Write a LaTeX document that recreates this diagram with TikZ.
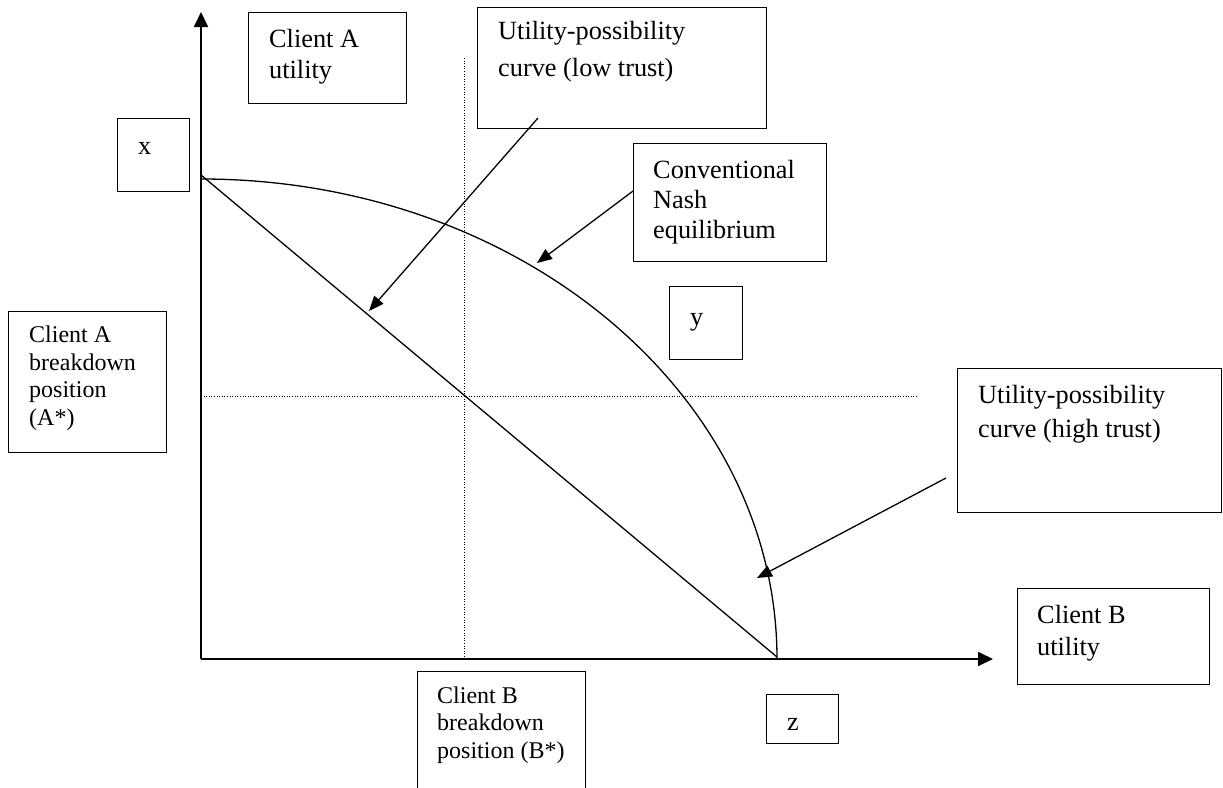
\documentclass[tikz,border=0pt]{standalone}
\usepackage{fontspec}
\setmainfont{Liberation Serif}
\usetikzlibrary{arrows.meta}
\begin{document}
\begin{tikzpicture}[x=1pt,y=-1pt,
  box/.style={draw, line width=1.3pt, inner sep=0pt, anchor=north west},
  lbl/.style={anchor=base west, inner sep=0pt, align=left},
  big/.style={font=\fontsize{26.3}{#1}\selectfont},
  small/.style={font=\fontsize{24}{#1}\selectfont},
  axis/.style={line width=1.8pt, -{Triangle[length=15pt,width=14pt]}},
  curveline/.style={line width=1.3pt},
  ptr/.style={line width=1.3pt, -{Triangle[length=15pt,width=12pt]}},
  dots/.style={line width=0.9pt, dash pattern=on 1pt off 1.6pt}
]
\useasboundingbox (0,0) rectangle (1223,787);
\clip (0,0) rectangle (1223,787);

% boxes
\node[box, minimum width=158pt, minimum height=91pt]  (ca)  at (248,12)  {};
\node[box, minimum width=72pt,  minimum height=73pt]  (xb)  at (117,118) {};
\node[box, minimum width=289pt, minimum height=121pt] (low) at (477,7)   {};
\node[box, minimum width=193pt, minimum height=118pt] (nash) at (633,143) {};
\node[box, minimum width=158pt, minimum height=141pt] (ab)  at (8,311)   {};
\node[box, minimum width=73pt,  minimum height=73pt]  (yb)  at (669,286) {};
\node[box, minimum width=264pt, minimum height=144pt] (high) at (957,368) {};
\node[box, minimum width=168pt, minimum height=140pt] (bb)  at (417,671) {};
\node[box, minimum width=72pt,  minimum height=49pt]  (zb)  at (766,694) {};
\node[box, minimum width=192pt, minimum height=96pt]  (cb)  at (1017,588) {};

% texts (anchored at the baseline of their last line)
\node[lbl, big=31]   (catxt)  at (269,78)  {Client A\\utility};
\node[lbl, big=31]   (xtxt)   at (138,154) {x};
\node[lbl, big=37]   (lowtxt) at (498,76)  {Utility-possibility\\curve (low trust)};
\node[lbl, big=30]   (nashtxt) at (653,238) {Conventional\\Nash\\equilibrium};
\node[lbl, small=27.5] (abtxt)  at (29,425)  {Client A\\breakdown\\position\\(A*)};
\node[lbl, big=31]   (ytxt)   at (690,325) {y};
\node[lbl, big=34]   (hightxt) at (978,437) {Utility-possibility\\curve (high trust)};
\node[lbl, small=27.5] (bbtxt) at (437,758) {Client B\\breakdown\\position (B*)};
\node[lbl, big=31]   (ztxt)   at (787,730) {z};
\node[lbl, big=32]   (cbtxt)  at (1037,655) {Client B\\utility};

% axes
\coordinate (O) at (201,659);
\coordinate (ytip) at (201,12);
\coordinate (xtip) at (993,659);
\draw[axis] (O) -- (ytip);
\draw[axis] (O) -- (xtip);

% dotted guides
\coordinate (vtop) at (464,58);
\coordinate (vbot) at (464,659);
\coordinate (hl) at (201,396);
\coordinate (hr) at (918,396);
\draw[dots] (vtop) -- (vbot);
\draw[dots] (hl) -- (hr);

% low trust line and high trust curve
\coordinate (ls) at (201,175);
\coordinate (le) at (777,657);
\draw[curveline] (ls) -- (le);
\coordinate (cs) at (201,179);
\coordinate (ce) at (777,659);
\draw[curveline] (cs) .. controls (519,179) and (777,394) .. (ce);

% pointers
\coordinate (lowA) at (538,118);
\coordinate (lowB) at (369,311);
\draw[ptr] (lowA) -- (lowB);
\coordinate (nashA) at (633,191);
\coordinate (nashB) at (537,263);
\draw[ptr] (nashA) -- (nashB);
\coordinate (highA) at (946,478);
\coordinate (highB) at (757,578);
\draw[ptr] (highA) -- (highB);
\end{tikzpicture}
\end{document}
